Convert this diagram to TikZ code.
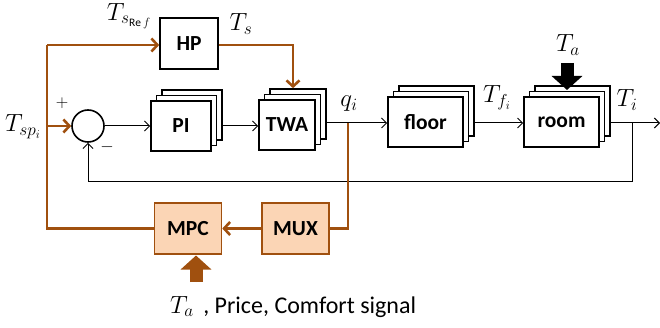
\documentclass[tikz,border=0pt]{standalone}
\usepackage{fontspec}
\setmainfont{Carlito}
\usetikzlibrary{arrows.meta}
\definecolor{ctrl}{HTML}{A0500F}
\definecolor{ctrlfill}{HTML}{FBD5B5}
\tikzset{
  blk/.style={draw=black, line width=1.6pt, fill=white, minimum width=#1, minimum height=50pt, inner sep=0pt, font=\fontsize{21.5}{23}\selectfont\bfseries},
  blk/.default=60pt,
  ctrlblk/.style={draw=ctrl, line width=1.6pt, fill=ctrlfill, minimum width=67pt, minimum height=51pt, inner sep=0pt, font=\fontsize{21.5}{23}\selectfont\bfseries},
  sig/.style={line width=1pt, -{Straight Barb[length=5pt,width=10pt]}},
  csig/.style={draw=ctrl, line width=2.6pt, -{Straight Barb[length=6pt,width=13pt]}},
  cline/.style={draw=ctrl, line width=2.6pt},
  lbl/.style={font=\fontsize{23}{25}\selectfont, inner sep=0pt},
  pm/.style={font=\fontsize{17}{19}\selectfont, inner sep=0pt},
  bigarrow/.style={line width=13pt, -{Triangle[length=14pt,width=30pt]}},
}
\newcommand{\stackblk}[5]{% name, x, y, width, text
  \node[blk=#4] (#1-b2) at (#2+11,#3-11) {};
  \node[blk=#4] (#1-b1) at (#2+5.5,#3-5.5) {};
  \node[blk=#4] (#1) at (#2,#3) {#5};
}
\begin{document}
\begin{tikzpicture}[x=1pt,y=-1pt]
\useasboundingbox (0,0) rectangle (660,328);
% blocks
\node[blk=58pt, minimum height=51pt] (hp) at (189,43.5) {HP};
\node[draw, line width=1.6pt, circle, minimum size=32pt, inner sep=0pt] (sum) at (88,126) {};
\stackblk{pi}{181}{126}{60pt}{PI}
\stackblk{twa}{287}{125}{56pt}{TWA}
\stackblk{floor}{425.5}{122}{75pt}{floor}
\stackblk{room}{561.5}{122}{75pt}{room}
\node[ctrlblk] (mpc) at (188,228.5) {MPC};
\node[ctrlblk] (mux) at (295.5,228.5) {MUX};
% coordinates
\coordinate (cl) at (47,228.5);
\coordinate (ct) at (47,45);
\coordinate (cm) at (47,126);
\coordinate (tsr) at (293,45);
\coordinate (qb) at (348,123);
\coordinate (qd) at (348,228.5);
\coordinate (fb) at (632,123);
\coordinate (fbd) at (632,182);
\coordinate (fbl) at (88,182);
\coordinate (out) at (660,123);
\coordinate (tas) at (567,63);
\coordinate (tae) at (567,90);
\coordinate (mps) at (196,282);
\coordinate (mpe) at (196,255.5);
% black signals
\draw[sig] (sum.east) -- (pi.west);
\draw[sig] (pi-b2.east |- pi.east) -- (twa.west |- pi.east);
\draw[sig] (twa-b2.east |- qb) -- (floor.west |- qb);
\draw[sig] (floor-b2.east |- qb) -- (room.west |- qb);
\draw[sig] (room-b2.east |- qb) -- (out);
\draw[sig] (fb) -- (fbd) -- (fbl) -- (sum.south);
% control (orange) signals
\draw[cline] (mpc.west) -- (cl) -- (ct);
\draw[csig] (ct) -- (hp.west |- ct);
\draw[csig] (cm) -- (sum.west);
\draw[csig] (hp.east |- tsr) -- (tsr) -- (twa-b2.north -| tsr);
\draw[cline] (qb) -- (qd) -- (mux.east);
\draw[csig] (mux.west) -- (mpc.east);
% block arrows
\draw[bigarrow] (tas) -- (tae);
\draw[bigarrow, draw=ctrl, fill=ctrl] (mps) -- (mpe);
% labels
\node[lbl] (lsref) at (129,16) {$T_{s_{\mathrm{Re}\,f}}$};
\node[lbl] (lts) at (241,24) {$T_s$};
\node[lbl] (ltsp) at (23,127) {$T_{sp_i}$};
\node[pm] (lplus) at (62,103) {$+$};
\node[pm] (lminus) at (107,147) {$-$};
\node[lbl] (lq) at (349,104) {$q_i$};
\node[lbl] (ltf) at (497,98) {$T_{f_i}$};
\node[lbl] (lti) at (627,100) {$T_i$};
\node[lbl] (lta) at (568,45) {$T_a$};
\node[anchor=base west, inner sep=0pt, font=\fontsize{24}{26}\selectfont] (lin) at (170,313) {{\fontsize{23}{25}\selectfont$T_a$}\, , Price, Comfort signal};
\end{tikzpicture}
\end{document}
